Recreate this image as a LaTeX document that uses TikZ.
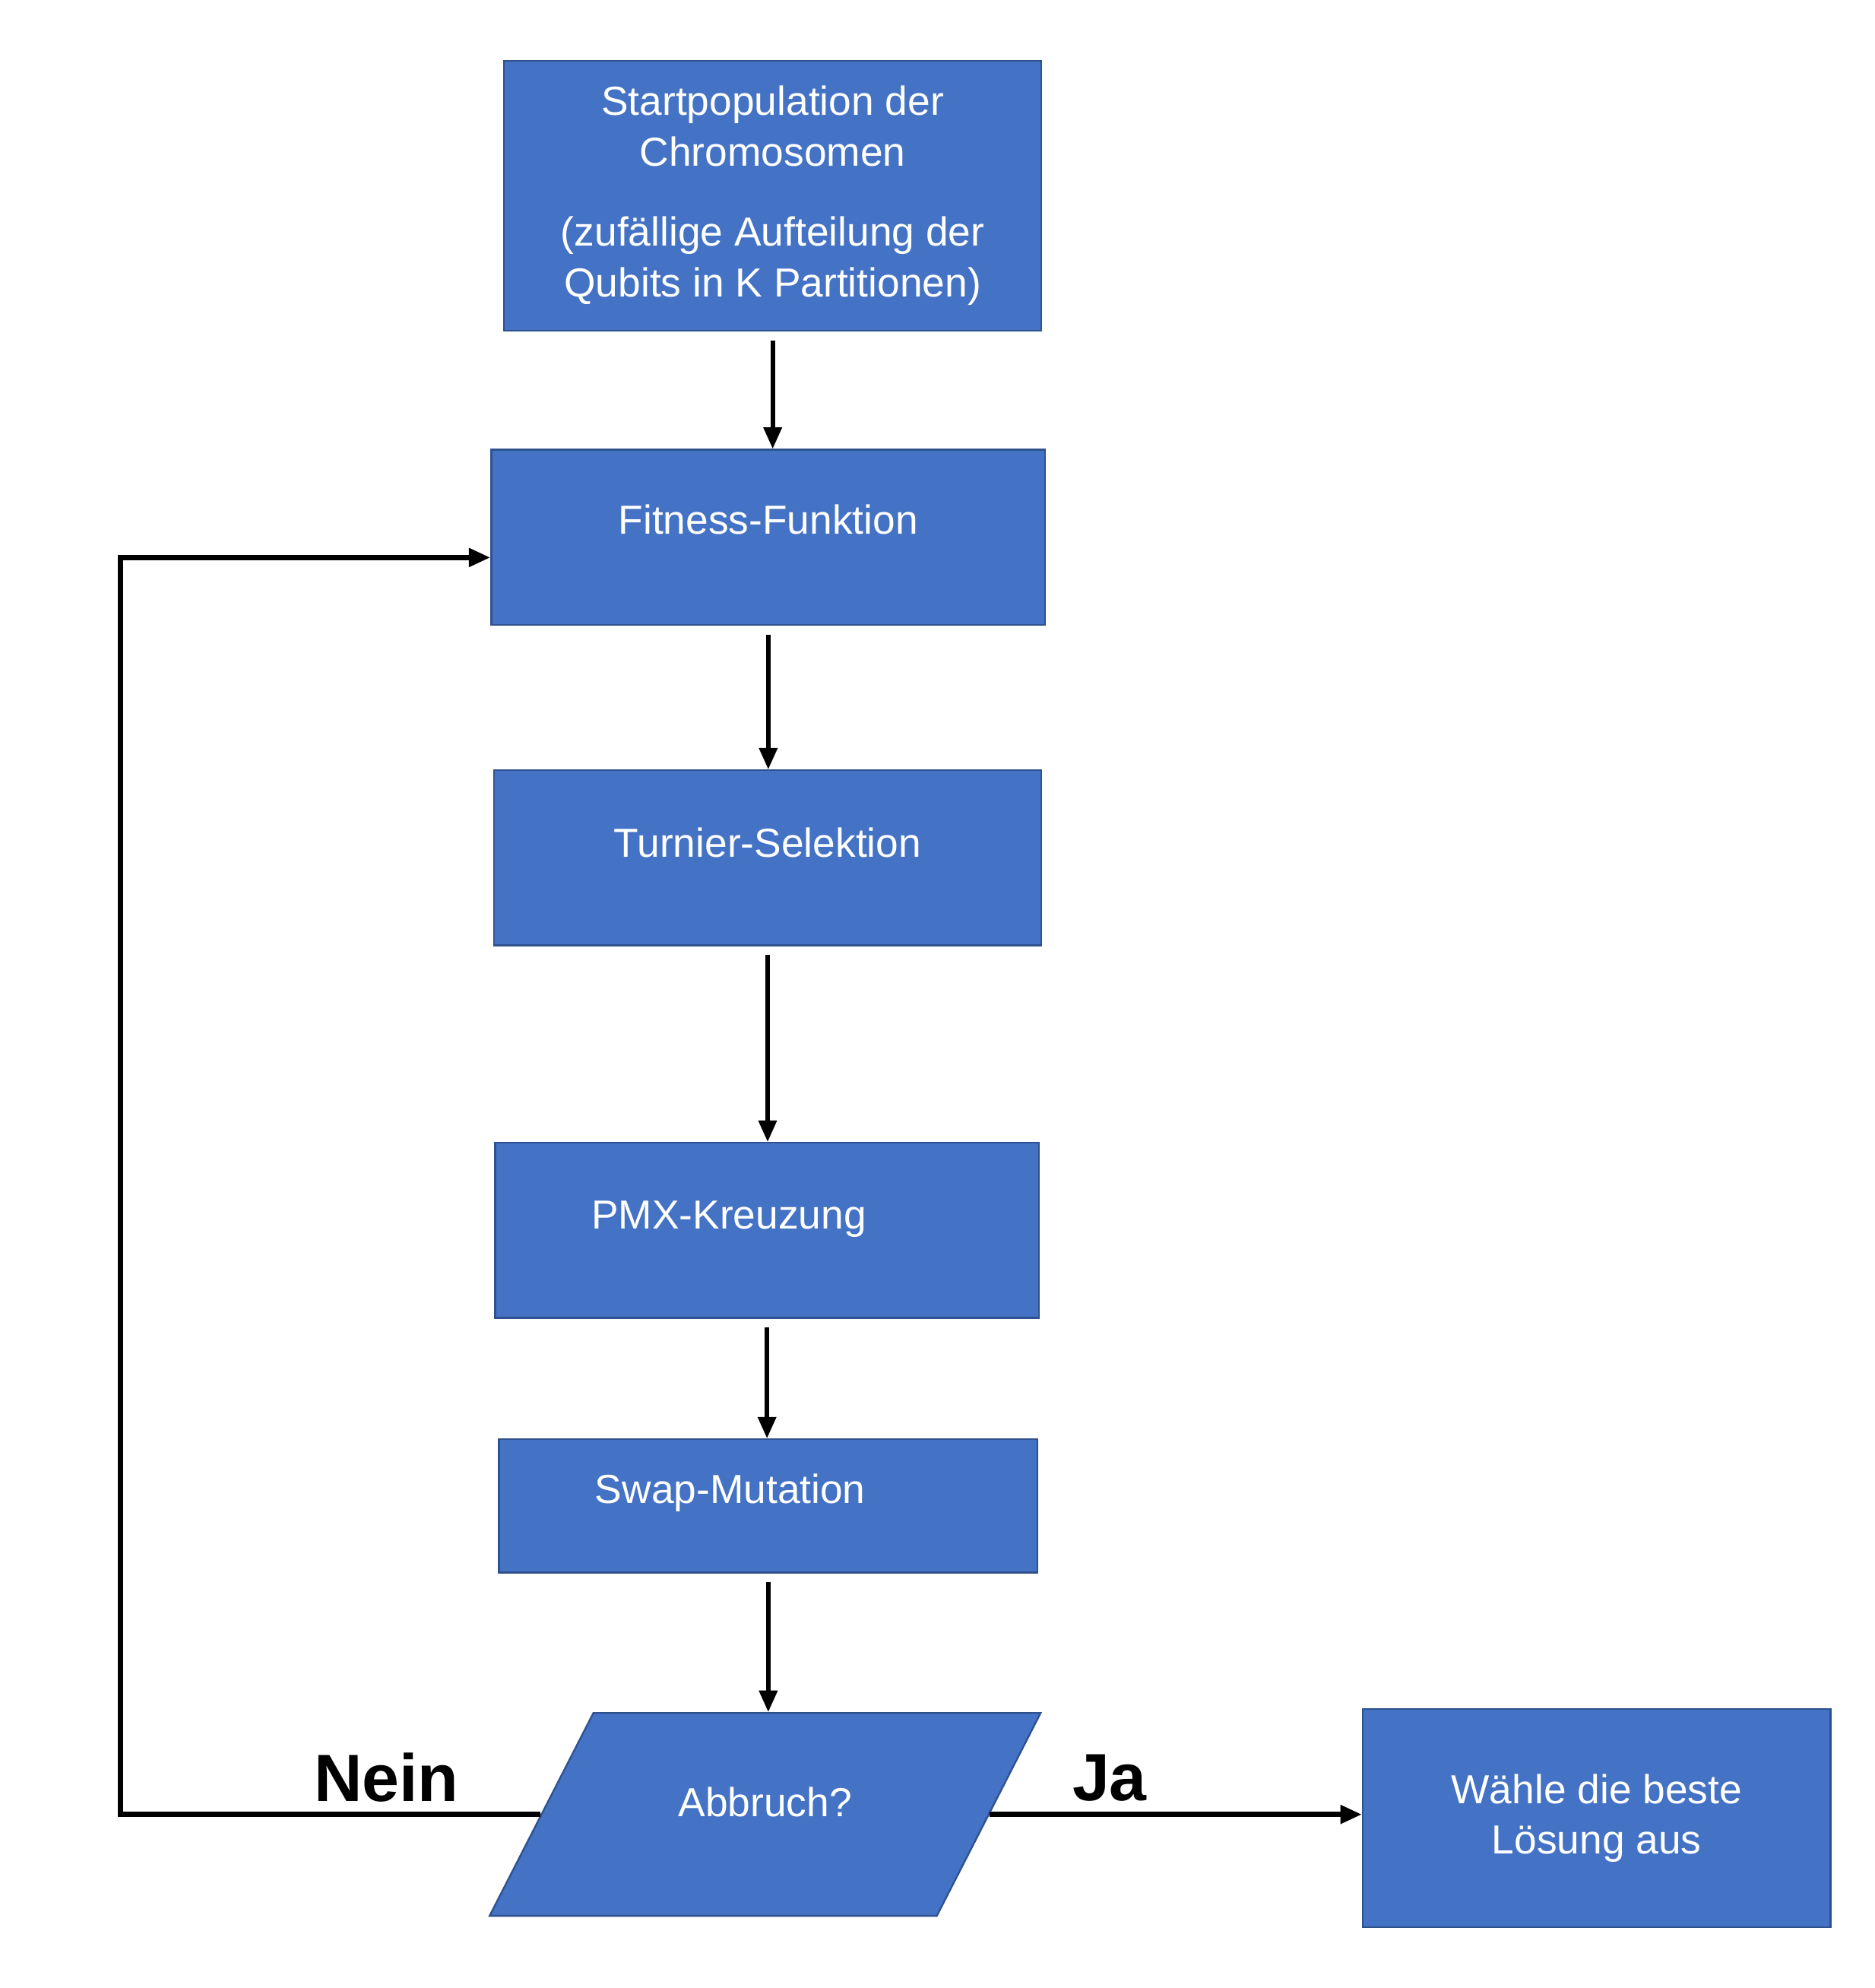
\documentclass[tikz,border=0pt]{standalone}
\usepackage{fontspec}
\setmainfont{Liberation Sans}
\usetikzlibrary{arrows.meta,shapes.geometric}
\definecolor{boxblue}{HTML}{4472C4}
\definecolor{boxline}{HTML}{2F528F}
\tikzset{
  box/.style={draw=boxline,line width=0.4pt,fill=boxblue,text=white,font=\fontsize{9.1}{11.4}\selectfont,align=center,inner sep=0pt},
  up/.style={text height=6.6pt,text depth=#1},
  flow/.style={->,line width=1pt},
  lbl/.style={font=\fontsize{15}{18}\selectfont\bfseries}
}
\begin{document}
\begin{tikzpicture}[>={Triangle[length=1.7mm,width=1.4mm]},x=0.01cm,y=-0.01cm]
\useasboundingbox (0,0) rectangle (1480,1569);
\node[box,minimum width=4.24cm,minimum height=2.13cm] (start) at (610,154.5) {Startpopulation der\\Chromosomen\\[0.23cm](zufällige Aufteilung der\\Qubits in K Partitionen)};
\node[box,minimum width=4.37cm,minimum height=1.38cm,up=8pt] (fit) at (606.5,424) {Fitness-Funktion};
\node[box,minimum width=4.32cm,minimum height=1.38cm,up=6.8pt] (sel) at (606,677) {Turnier-Selektion};
\node[box,minimum width=4.29cm,minimum height=1.38cm,up=7.4pt] (pmx) at (605.5,971) {PMX-Kreuzung\hspace*{0.6cm}};
\node[box,minimum width=4.25cm,minimum height=1.05cm,up=7.8pt] (mut) at (606.5,1188.5) {Swap-Mutation\hspace*{0.6cm}};
\node[box,trapezium,trapezium left angle=62.9,trapezium right angle=117.1,text width=2cm,inner xsep=0.355cm,inner ysep=16.66pt,up=5.6pt] (stop) at (604,1432) {Abbruch?};
\node[box,minimum width=3.69cm,minimum height=1.72cm] (best) at (1260.5,1435) {Wähle die beste\\Lösung aus};
\node[lbl] (nein) at (305,1403) {Nein};
\node[lbl] (ja) at (876,1403) {Ja};
% Pfeile
\draw[flow] ([yshift=-2pt]start.south) -- (start.south |- fit.north);
\draw[flow] ([yshift=-2pt]fit.south) -- (fit.south |- sel.north);
\draw[flow] ([yshift=-2pt]sel.south) -- (sel.south |- pmx.north);
\draw[flow] ([yshift=-2pt]pmx.south) -- (pmx.south |- mut.north);
\draw[flow] ([yshift=-2pt]mut.south) -- (mut.south |- stop.north);
\coordinate (back) at (95,440);
\draw[flow,line width=1.2pt] (stop.west) -- (stop.west -| back) |- ([yshift=-0.16cm]fit.west);
\draw[flow,line width=1.2pt] (stop.east) -- (stop.east -| best.west);
\end{tikzpicture}
\end{document}
